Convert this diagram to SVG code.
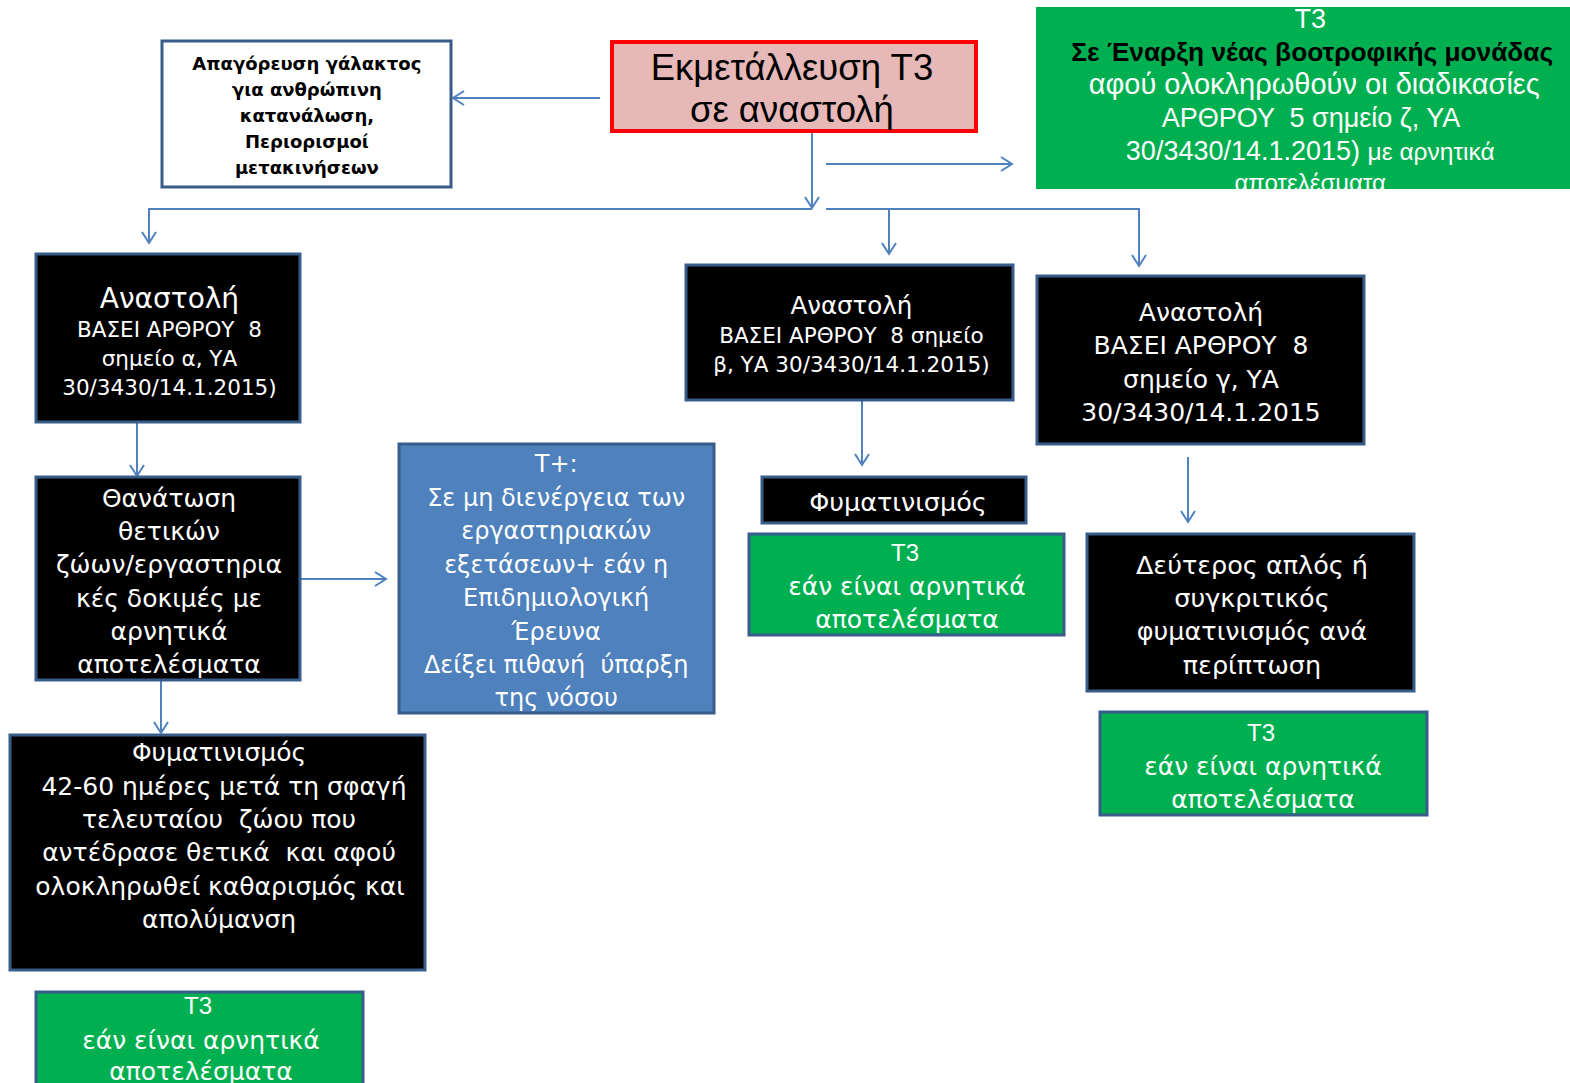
<svg xmlns="http://www.w3.org/2000/svg" width="1570" height="1083" viewBox="0 0 1570 1083">
<defs>
<marker id="arr" markerWidth="16" markerHeight="16" refX="13" refY="8" orient="auto" markerUnits="userSpaceOnUse">
<path d="M2,1 L13,8 L2,15" fill="none" stroke="#4F81BD" stroke-width="2"/>
</marker>
<style>
text{white-space:pre}
.blk{fill:#000;stroke:#385D8A;stroke-width:3}
.grn{fill:#00B050;stroke:#385D8A;stroke-width:3}
.v{font-family:"DejaVu Sans","Noto Sans",sans-serif;fill:#fff;text-anchor:middle}
.c{font-family:"Liberation Sans","Noto Sans",sans-serif;text-anchor:middle}
.t3{font-family:"Liberation Sans",sans-serif;font-size:24px}
.w{fill:#fff}
.ln{fill:none;stroke:#4F81BD;stroke-width:2}
</style>
</defs>
<rect width="1570" height="1083" fill="#fff"/>
<g id="connectors">
<line class="ln" x1="600" y1="98" x2="453" y2="98" marker-end="url(#arr)"/>
<line class="ln" x1="812" y1="131" x2="812" y2="208" marker-end="url(#arr)"/>
<line class="ln" x1="826" y1="164" x2="1012" y2="164" marker-end="url(#arr)"/>
<polyline class="ln" points="812,209 149,209 149,243" marker-end="url(#arr)"/>
<polyline class="ln" points="826,209 1139,209 1139,266" marker-end="url(#arr)"/>
<line class="ln" x1="889" y1="209" x2="889" y2="254" marker-end="url(#arr)"/>
<line class="ln" x1="137" y1="423" x2="137" y2="476" marker-end="url(#arr)"/>
<line class="ln" x1="301" y1="579" x2="386" y2="579" marker-end="url(#arr)"/>
<line class="ln" x1="161" y1="681" x2="161" y2="733" marker-end="url(#arr)"/>
<line class="ln" x1="862" y1="401" x2="862" y2="465" marker-end="url(#arr)"/>
<line class="ln" x1="1188" y1="457" x2="1188" y2="522" marker-end="url(#arr)"/>
</g>
<g id="n-milk">
<rect x="162" y="41" width="289" height="146" fill="#fff" stroke="#385D8A" stroke-width="3"/>
<text font-family="'DejaVu Sans',sans-serif" font-weight="bold" font-size="18" text-anchor="middle" fill="#000">
<tspan x="310" y="70">Απαγόρευση γάλακτος</tspan>
<tspan x="310" y="96">για ανθρώπινη</tspan>
<tspan x="310" y="122">κατανάλωση,</tspan>
<tspan x="310" y="148">Περιορισμοί</tspan>
<tspan x="310" y="174">μετακινήσεων</tspan>
</text>
</g>
<g id="n-main">
<rect x="612" y="42" width="364" height="89" fill="#E6B8B7" stroke="#FF0000" stroke-width="4"/>
<text class="c" font-size="36.5" fill="#000">
<tspan x="797" y="80">Εκμετάλλευση Τ3</tspan>
<tspan x="797" y="122">σε αναστολή</tspan>
</text>
</g>
<g id="n-t3-new">
<rect x="1036" y="7" width="534" height="182" fill="#00B050"/>
<text class="c" font-size="27">
<tspan x="1314" y="28" class="w">Τ3</tspan>
<tspan x="1316" y="61" font-weight="bold" fill="#000" font-size="26.3">Σε Έναρξη νέας βοοτροφικής μονάδας</tspan>
<tspan x="1318" y="94" class="w" font-size="29">αφού ολοκληρωθούν οι διαδικασίες</tspan>
<tspan x="1314" y="127" class="w">ΑΡΘΡΟΥ  5 σημείο ζ, ΥΑ</tspan>
<tspan x="1314" y="160" class="w">30/3430/14.1.2015) <tspan font-size="24.5">με αρνητικά</tspan></tspan>
<tspan x="1314" y="191" class="w" font-size="24">αποτελέσματα</tspan>
</text>
</g>
<g id="n-susp-a">
<rect class="blk" x="36" y="254" width="264" height="168"/>
<text class="v">
<tspan x="172" y="308" font-size="28">Αναστολή</tspan>
<tspan x="172" y="337" font-size="21.5">ΒΑΣΕΙ ΑΡΘΡΟΥ  8</tspan>
<tspan x="172" y="366" font-size="21.5">σημείο α, ΥΑ</tspan>
<tspan x="172" y="395" font-size="21.5">30/3430/14.1.2015)</tspan>
</text>
</g>
<g id="n-kill">
<rect class="blk" x="36" y="477" width="264" height="203"/>
<text class="v" font-size="25">
<tspan x="173" y="507">Θανάτωση</tspan>
<tspan x="173" y="540">θετικών</tspan>
<tspan x="173" y="573">ζώων/εργαστηρια</tspan>
<tspan x="173" y="607">κές δοκιμές με</tspan>
<tspan x="173" y="640">αρνητικά</tspan>
<tspan x="173" y="673">αποτελέσματα</tspan>
</text>
</g>
<g id="n-tplus">
<rect x="399" y="444" width="315" height="269" fill="#4F81BD" stroke="#385D8A" stroke-width="3"/>
<text class="v" font-size="24">
<tspan x="560" y="472">Τ+:</tspan>
<tspan x="560" y="506">Σε μη διενέργεια των</tspan>
<tspan x="560" y="539">εργαστηριακών</tspan>
<tspan x="560" y="573">εξετάσεων+ εάν η</tspan>
<tspan x="560" y="606">Επιδημιολογική</tspan>
<tspan x="560" y="640">Έρευνα</tspan>
<tspan x="560" y="673">Δείξει πιθανή  ύπαρξη</tspan>
<tspan x="560" y="706">της νόσου</tspan>
</text>
</g>
<g id="n-tb-left">
<rect class="blk" x="10" y="735" width="415" height="235"/>
<text class="v" font-size="25">
<tspan x="223" y="761">Φυματινισμός</tspan>
<tspan x="224" y="795"> 42-60 ημέρες μετά τη σφαγή</tspan>
<tspan x="223" y="828">τελευταίου  ζώου που</tspan>
<tspan x="223" y="861">αντέδρασε θετικά  και αφού</tspan>
<tspan x="224" y="895">ολοκληρωθεί καθαρισμός και</tspan>
<tspan x="223" y="928">απολύμανση</tspan>
</text>
</g>
<g id="n-t3-left">
<rect class="grn" x="36" y="992" width="327" height="100"/>
<text class="v" font-size="25">
<tspan x="202" y="1014" class="t3">Τ3</tspan>
<tspan x="205" y="1049">εάν είναι αρνητικά</tspan>
<tspan x="205" y="1080">αποτελέσματα</tspan>
</text>
</g>
<g id="n-susp-b">
<rect class="blk" x="686" y="265" width="327" height="135"/>
<text class="v">
<tspan x="854" y="314" font-size="24.5">Αναστολή</tspan>
<tspan x="854" y="343" font-size="21.5">ΒΑΣΕΙ ΑΡΘΡΟΥ  8 σημείο</tspan>
<tspan x="854" y="372" font-size="21.5">β, ΥΑ 30/3430/14.1.2015)</tspan>
</text>
</g>
<g id="n-susp-c">
<rect class="blk" x="1037" y="276" width="327" height="168"/>
<text class="v" font-size="25">
<tspan x="1205" y="321">Αναστολή</tspan>
<tspan x="1205" y="354">ΒΑΣΕΙ ΑΡΘΡΟΥ  8</tspan>
<tspan x="1205" y="388">σημείο γ, ΥΑ</tspan>
<tspan x="1205" y="421">30/3430/14.1.2015</tspan>
</text>
</g>
<g id="n-tb-mid">
<rect class="blk" x="762" y="477" width="264" height="46"/>
<text class="v" font-size="25.5"><tspan x="898" y="511">Φυματινισμός</tspan></text>
</g>
<g id="n-t3-mid">
<rect class="grn" x="749" y="534" width="315" height="101"/>
<text class="v" font-size="25">
<tspan x="909" y="561" class="t3">Τ3</tspan>
<tspan x="911" y="595">εάν είναι αρνητικά</tspan>
<tspan x="911" y="628">αποτελέσματα</tspan>
</text>
</g>
<g id="n-second">
<rect class="blk" x="1087" y="534" width="327" height="157"/>
<text class="v" font-size="25.5">
<tspan x="1256" y="574">Δεύτερος απλός ή</tspan>
<tspan x="1256" y="607">συγκριτικός</tspan>
<tspan x="1256" y="640">φυματινισμός ανά</tspan>
<tspan x="1256" y="674">περίπτωση</tspan>
</text>
</g>
<g id="n-t3-right">
<rect class="grn" x="1100" y="712" width="327" height="103"/>
<text class="v" font-size="25">
<tspan x="1265" y="741" class="t3">Τ3</tspan>
<tspan x="1267" y="775">εάν είναι αρνητικά</tspan>
<tspan x="1267" y="808">αποτελέσματα</tspan>
</text>
</g>
</svg>
